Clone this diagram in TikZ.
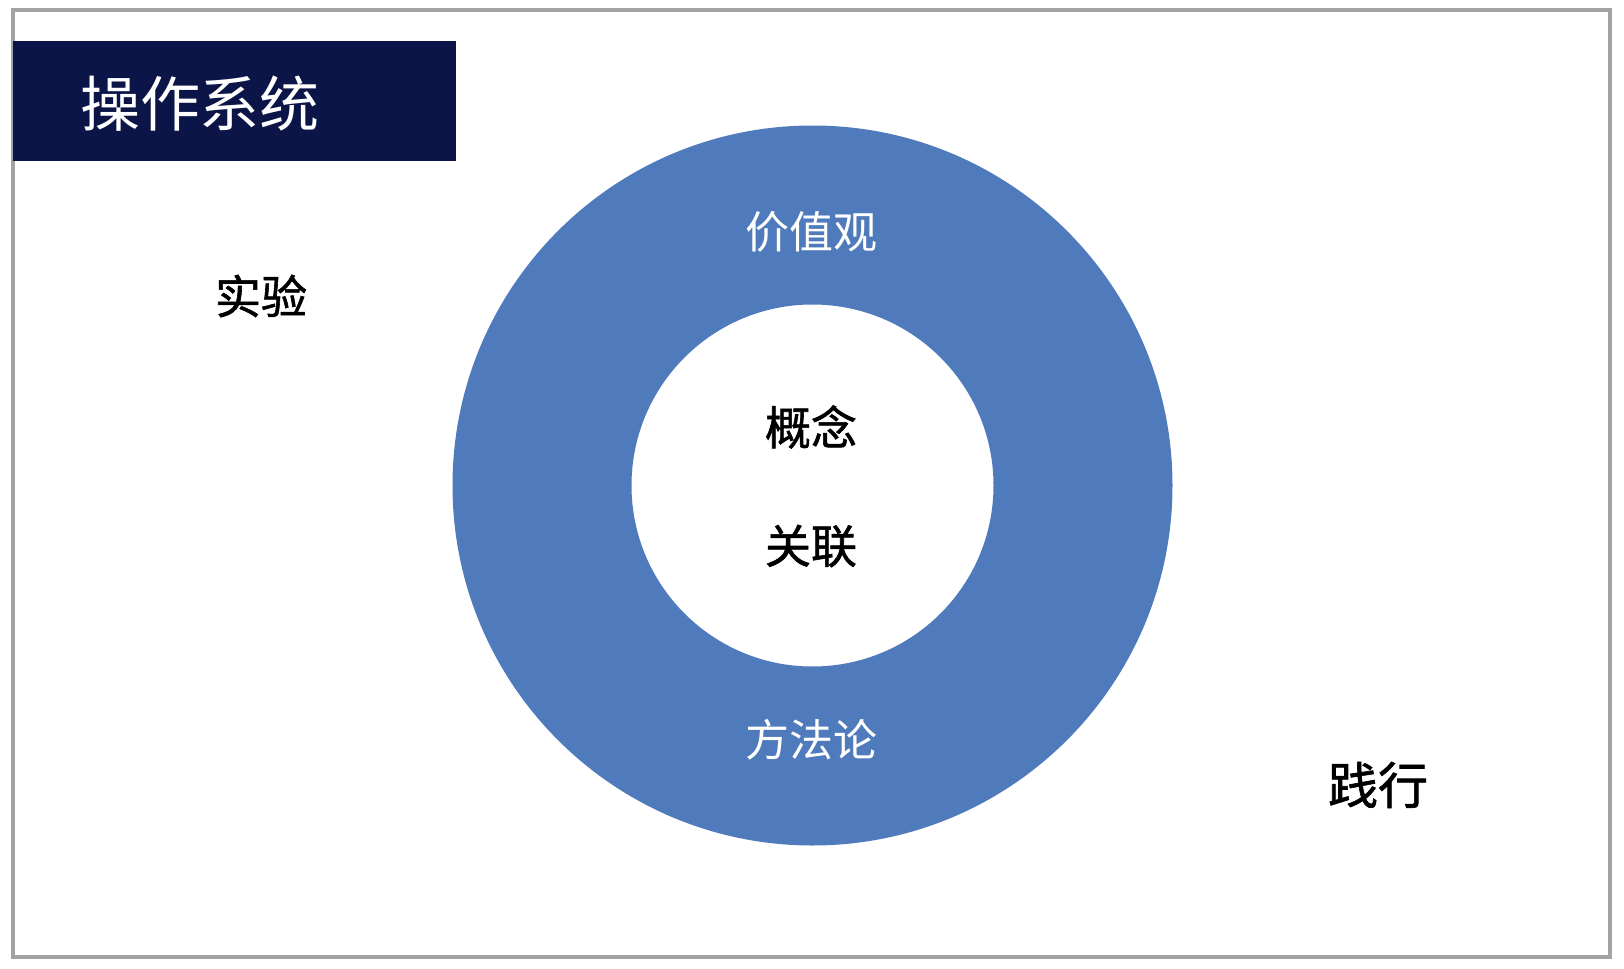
\documentclass[tikz,border=0pt]{standalone}
\usepackage{fontspec}
\setmainfont{Noto Sans CJK SC}
\newfontfamily\cjk{Noto Sans CJK SC}
\newfontfamily\cjkb[FakeBold=1.3]{Noto Sans CJK SC}
\definecolor{navy}{HTML}{0B1548}
\definecolor{ringblue}{HTML}{4F7ABC}
\definecolor{framegray}{HTML}{A3A3A3}
\tikzset{
  lbl/.style={inner sep=0pt, anchor=center, font=\cjk},
  whitelbl/.style={lbl, text=white, font=\cjk\fontsize{22}{26}\selectfont},
  blacklbl/.style={lbl, text=black, font=\cjkb\fontsize{23}{27}\selectfont}
}
\begin{document}
\begin{tikzpicture}[x=0.5pt,y=-0.5pt]
  \useasboundingbox (0,0) rectangle (1624,969);
  \fill[white] (0,0) rectangle (1624,969);
  % frame
  \draw[framegray, line width=1.6pt] (13,10) rectangle (1610,957);
  % title bar
  \fill[navy] (13,41) rectangle (456,161);
  \node[lbl, text=white, font=\cjk\fontsize{30}{36}\selectfont] (title) at (200,104) {操作系统};
  % ring
  \fill[ringblue, even odd rule] (812.5,485.5) circle[radius=360] (812.5,485.5) circle[radius=181];
  \node[whitelbl] (values) at (811,232) {价值观};
  \node[whitelbl] (method) at (811,740) {方法论};
  \node[blacklbl] (concept) at (811,427) {概念};
  \node[blacklbl] (link) at (811,546) {关联};
  \node[blacklbl] (exp) at (261,296) {实验};
  \node[lbl, text=black, font=\cjkb\fontsize{25}{29}\selectfont] (prac) at (1378,785) {践行};
\end{tikzpicture}
\end{document}
